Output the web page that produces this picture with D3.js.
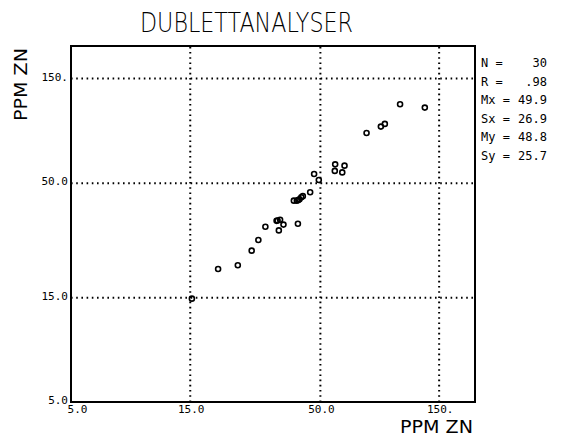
<!DOCTYPE html>
<html>
<head>
<meta charset="utf-8">
<script src="https://cdn.jsdelivr.net/npm/d3@7"></script>
<style>
  body { margin: 0; background: #fff; }
  text { fill: #000; }
</style>
</head>
<body>
<svg id="canvas"></svg>
<script>
// Duplicate pairs (x = first analysis, y = second analysis), ppm Zn
const dupX = [15.3, 19.5, 23.4, 26.6, 28.3, 30.2, 33.5, 34.6, 35.7, 34.2,
              40.8, 39.3, 40.4, 41.4, 42.1, 42.7, 45.7, 47.4, 49.5, 57.6,
              62.8, 57.4, 61.5, 77.0, 87.9, 91.2, 105, 132, 41.0, 33.8];
const dupY = [14.8, 20.2, 21.0, 24.5, 27.4, 31.5, 33.5, 33.9, 32.2, 30.3,
              32.5, 41.4, 41.4, 42.0, 42.9, 43.4, 45.2, 54.8, 51.4, 60.6,
              59.8, 56.6, 55.7, 84.3, 90.1, 92.7, 114, 110, 41.7, 33.6];

// Axis ticks and their printed labels
const tickValues = [5, 15, 50, 150];
const tickLabels = ["5.0", "15.0", "50.0", "150."];

// Statistics box
const statNames = ["N =", "R =", "Mx =", "Sx =", "My =", "Sy ="];
const statValues = ["30", ".98", "49.9", "26.9", "48.8", "25.7"];

const svgWidth = 566, svgHeight = 436;
const plotLeft = 71, plotRight = 475, plotTop = 46, plotBottom = 402;

const svg = d3.select("#canvas").attr("width", svgWidth).attr("height", svgHeight);

const x = d3.scaleLog().domain([5, 210]).range([plotLeft, plotRight]);
const y = d3.scaleLog().domain([5, 210]).range([plotBottom, plotTop]);

// Dotted grid lines at 15, 50, 150
svg.append("g")
   .attr("transform", `translate(0,${plotBottom})`)
   .call(d3.axisBottom(x).tickValues(tickValues.slice(1)).tickSize(-(plotBottom - plotTop)).tickFormat(""))
   .call(g => g.select(".domain").remove())
   .selectAll("line")
   .attr("stroke", "#000").attr("stroke-width", 2)
   .attr("stroke-dasharray", "1.6,3.6");

svg.append("g")
   .attr("transform", `translate(${plotLeft},0)`)
   .call(d3.axisLeft(y).tickValues(tickValues.slice(1)).tickSize(-(plotRight - plotLeft)).tickFormat(""))
   .call(g => g.select(".domain").remove())
   .selectAll("line")
   .attr("stroke", "#000").attr("stroke-width", 2)
   .attr("stroke-dasharray", "1.6,3.6");

// Tick labels
const xAxis = svg.append("g")
   .attr("transform", `translate(0,${plotBottom})`)
   .call(d3.axisBottom(x).tickValues(tickValues).tickSize(0).tickPadding(3)
          .tickFormat((d, i) => tickLabels[i]));
xAxis.select(".domain").remove();
xAxis.selectAll("text")
   .attr("font-family", "DejaVu Sans Mono").attr("font-size", 11)
   .attr("dx", (d, i) => i === 0 ? 6 : 1);

const yAxis = svg.append("g")
   .attr("transform", `translate(${plotLeft},0)`)
   .call(d3.axisLeft(y).tickValues(tickValues).tickSize(0).tickPadding(3)
          .tickFormat((d, i) => tickLabels[i]));
yAxis.select(".domain").remove();
yAxis.selectAll("text")
   .attr("font-family", "DejaVu Sans Mono").attr("font-size", 11)
   .attr("dy", (d, i) => i === 0 ? "0.1em" : "0.2em");

// Frame
svg.append("rect")
   .attr("x", plotLeft).attr("y", plotTop)
   .attr("width", plotRight - plotLeft).attr("height", plotBottom - plotTop)
   .attr("fill", "none").attr("stroke", "#000").attr("stroke-width", 2);

// Points
svg.append("g").selectAll("circle")
   .data(dupX)
   .enter()
   .append("circle")
   .attr("cx", d => x(d))
   .attr("cy", (d, i) => y(dupY[i]))
   .attr("r", 2.5)
   .attr("fill", "none")
   .attr("stroke", "#000")
   .attr("stroke-width", 1.6);

// Title
svg.append("text")
   .attr("x", 140).attr("y", 32)
   .attr("font-family", "DejaVu Sans").attr("font-size", 26)
   .attr("font-weight", 300)
   .attr("textLength", 213).attr("lengthAdjust", "spacingAndGlyphs")
   .text("DUBLETTANALYSER");

// Axis titles
svg.append("text")
   .attr("transform", "translate(27,121) rotate(-90)")
   .attr("font-family", "DejaVu Sans").attr("font-size", 17)
   .attr("textLength", 73).attr("lengthAdjust", "spacingAndGlyphs")
   .text("PPM ZN");

svg.append("text")
   .attr("x", 400).attr("y", 433)
   .attr("font-family", "DejaVu Sans").attr("font-size", 17)
   .attr("textLength", 73).attr("lengthAdjust", "spacingAndGlyphs")
   .text("PPM ZN");

// Stats box
const stats = svg.append("g")
   .attr("font-family", "DejaVu Sans Mono").attr("font-size", 12);
stats.selectAll(".lab")
   .data(statNames)
   .enter()
   .append("text")
   .attr("x", 481)
   .attr("y", (d, i) => 67 + i * 18.6)
   .text(d => d);
stats.selectAll(".val")
   .data(statValues)
   .enter()
   .append("text")
   .attr("x", 547)
   .attr("y", (d, i) => 67 + i * 18.6)
   .attr("text-anchor", "end")
   .text(d => d);
</script>
</body>
</html>
